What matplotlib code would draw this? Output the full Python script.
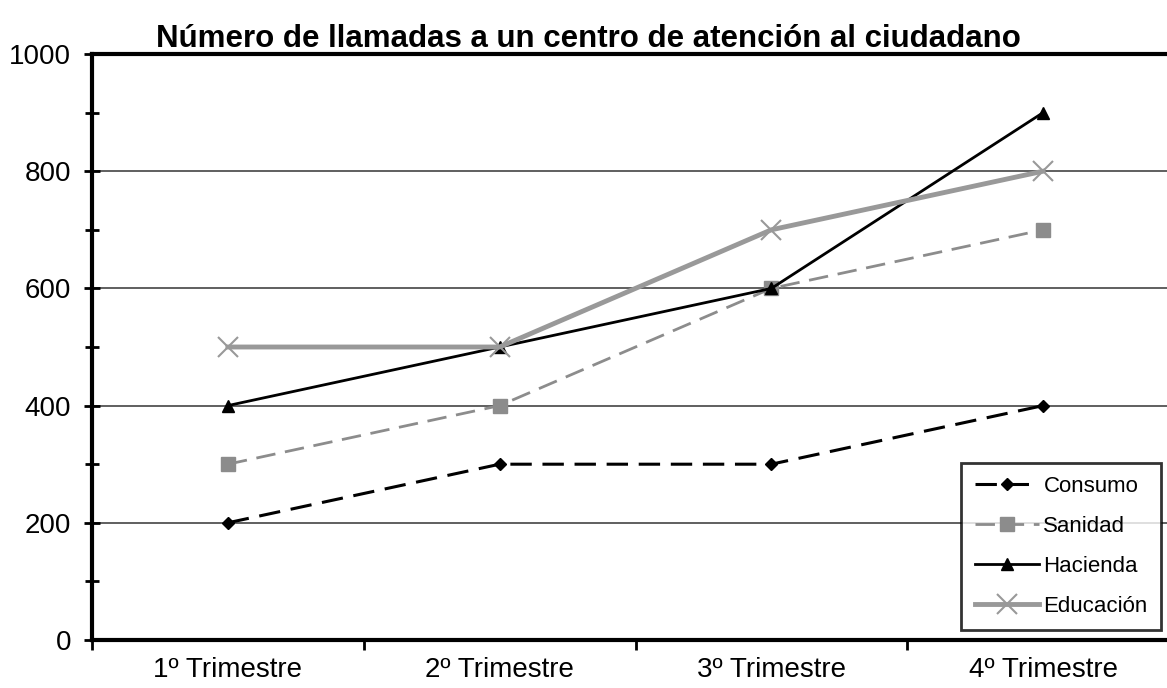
import numpy as np
import matplotlib.pyplot as plt
from matplotlib.ticker import MultipleLocator

plt.rcParams['font.family'] = ['Liberation Sans', 'DejaVu Sans']

trimestres = ['1º Trimestre', '2º Trimestre', '3º Trimestre', '4º Trimestre']
consumo = [200, 300, 300, 400]
sanidad = [300, 400, 600, 700]
hacienda = [400, 500, 600, 900]
educacion = [500, 500, 700, 800]

W, H = 1167, 688
fig = plt.figure(figsize=(W / 100, H / 100), dpi=100)
# plot area runs a little past the right edge of the image, as in the original
left, right, top, bottom = 92, 1179, 54, 640
ax = fig.add_axes([left / W, 1 - bottom / H, (right - left) / W, (bottom - top) / H])

x = np.arange(len(trimestres))
gray = '#8c8c8c'

ax.plot(x, consumo, color='black', lw=2.2, dashes=(7, 3.5), marker='D', ms=6,
        label='Consumo')
ax.plot(x, sanidad, color=gray, lw=2.0, dashes=(7, 3.5), marker='s', ms=10,
        label='Sanidad')
ax.plot(x, hacienda, color='black', lw=2.0, marker='^', ms=9, label='Hacienda')
ax.plot(x, educacion, color='#999999', lw=3.5, marker='x', ms=14, mew=1.5,
        mec='#999999', label='Educación')

ax.set_xlim(-0.5, 3.5)
ax.set_ylim(0, 1000)
ax.yaxis.set_major_locator(MultipleLocator(200))
ax.yaxis.set_minor_locator(MultipleLocator(100))
ax.set_xticks(x)
ax.set_xticklabels(trimestres)
ax.set_xticks(np.arange(-0.5, 4, 1), minor=True)
ax.tick_params(axis='x', which='major', length=0, pad=12, labelsize=20)
ax.tick_params(axis='x', which='minor', direction='out', length=7, width=2)
ax.tick_params(axis='y', which='both', direction='inout', length=12, width=2,
               labelsize=20, pad=9)
ax.tick_params(axis='y', which='minor', length=10)

for y in [200, 400, 600, 800]:
    ax.axhline(y, color='#444444', lw=1.2, zorder=0)

for s in ax.spines.values():
    s.set_linewidth(3)

ax.set_title('Número de llamadas a un centro de atención al ciudadano',
             fontsize=22.5, fontweight='bold', pad=5, x=(588 - left) / (right - left))

leg = ax.legend(loc='lower right', bbox_to_anchor=((1161 - left) / (right - left), 0.017),
                fontsize=16, frameon=True, fancybox=False, edgecolor='black',
                handlelength=2.9, handletextpad=0.2, labelspacing=0.85, borderpad=0.6,
                borderaxespad=0)
leg.get_frame().set_linewidth(2)

fig.savefig('out.png', dpi=100)
